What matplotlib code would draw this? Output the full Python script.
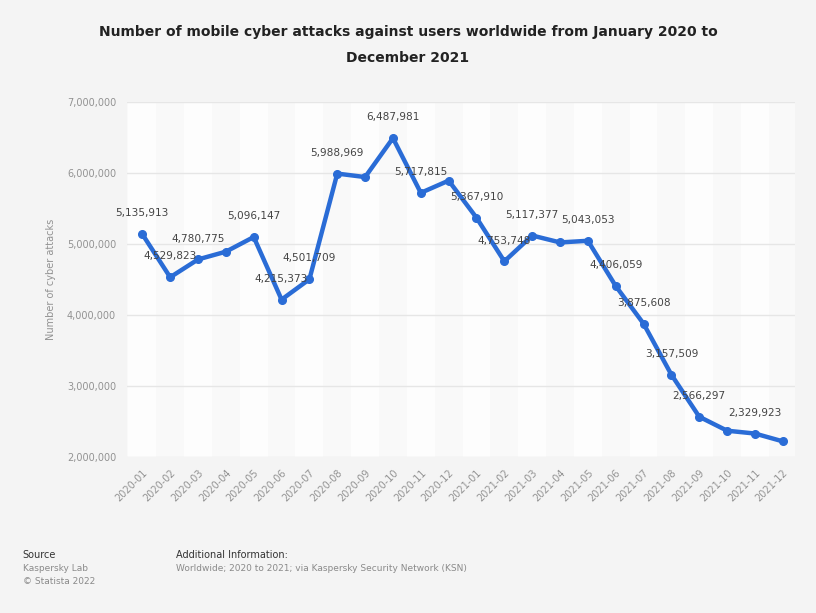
import matplotlib
matplotlib.use("Agg")
import matplotlib.pyplot as plt
from matplotlib.ticker import FuncFormatter

months = ["2020-01", "2020-02", "2020-03", "2020-04", "2020-05", "2020-06",
          "2020-07", "2020-08", "2020-09", "2020-10", "2020-11", "2020-12",
          "2021-01", "2021-02", "2021-03", "2021-04", "2021-05", "2021-06",
          "2021-07", "2021-08", "2021-09", "2021-10", "2021-11", "2021-12"]
attacks = [5135913, 4529823, 4780775, 4890000, 5096147, 4215373,
           4501709, 5988969, 5940000, 6487981, 5717815, 5890000,
           5367910, 4753748, 5117377, 5020000, 5043053, 4406059,
           3875608, 3157509, 2566297, 2370000, 2329923, 2220000]
labeled = [True, True, True, False, True, True,
           True, True, False, True, True, False,
           True, True, True, False, True, True,
           True, True, True, False, True, False]
yticks = [2000000, 3000000, 4000000, 5000000, 6000000, 7000000]

bg = "#f4f4f4"
fig = plt.figure(figsize=(8.16, 6.13), dpi=100, facecolor=bg)
ax = fig.add_axes([0.156, 0.2545, 0.818, 0.5795])
ax.set_facecolor("#f9f9f9")

x = list(range(len(months)))
for i in x:
    if i % 2 == 0:
        ax.axvspan(i - 0.5, i + 0.5, color="#fdfdfd", zorder=0, lw=0)

ax.plot(x, attacks, color="#2a6cd6", lw=3.2, marker="o", ms=5.5, zorder=3,
        solid_joinstyle="round")

for xi, v, show in zip(x, attacks, labeled):
    if show:
        ax.annotate(f"{v:,}", (xi, v), xytext=(0, 15), textcoords="offset points",
                    ha="center", va="center", fontsize=7.6, color="#444444", zorder=4)

ax.set_xlim(-0.54, 23.43)
ax.set_ylim(2000000, 7000000)
ax.set_yticks(yticks)
ax.yaxis.set_major_formatter(FuncFormatter(lambda v, p: f"{int(v):,}"))
ax.set_xticks(x)
ax.set_xticklabels(months, rotation=45, ha="right", rotation_mode="anchor")
ax.tick_params(axis="both", length=0, labelsize=7, colors="#929292", pad=8)
ax.grid(axis="y", color="#e6e6e6", lw=1)
ax.set_axisbelow(True)
for s in ax.spines.values():
    s.set_visible(False)
ax.set_ylabel("Number of cyber attacks", fontsize=7, color="#929292", labelpad=8)

fig.text(0.5, 0.947, "Number of mobile cyber attacks against users worldwide from January 2020 to",
         ha="center", va="center", fontsize=10, fontweight="bold", color="#222222")
fig.text(0.5, 0.905, "December 2021",
         ha="center", va="center", fontsize=10, fontweight="bold", color="#222222")

fig.text(0.028, 0.094, "Source", fontsize=7, color="#333333", va="center")
fig.text(0.028, 0.072, "Kaspersky Lab", fontsize=6.5, color="#8a8a8a", va="center")
fig.text(0.028, 0.051, "© Statista 2022", fontsize=6.5, color="#8a8a8a", va="center")
fig.text(0.216, 0.094, "Additional Information:", fontsize=7, color="#333333", va="center")
fig.text(0.216, 0.072, "Worldwide; 2020 to 2021; via Kaspersky Security Network (KSN)",
         fontsize=6.5, color="#8a8a8a", va="center")

fig.savefig("out.png", dpi=100, facecolor=bg)
